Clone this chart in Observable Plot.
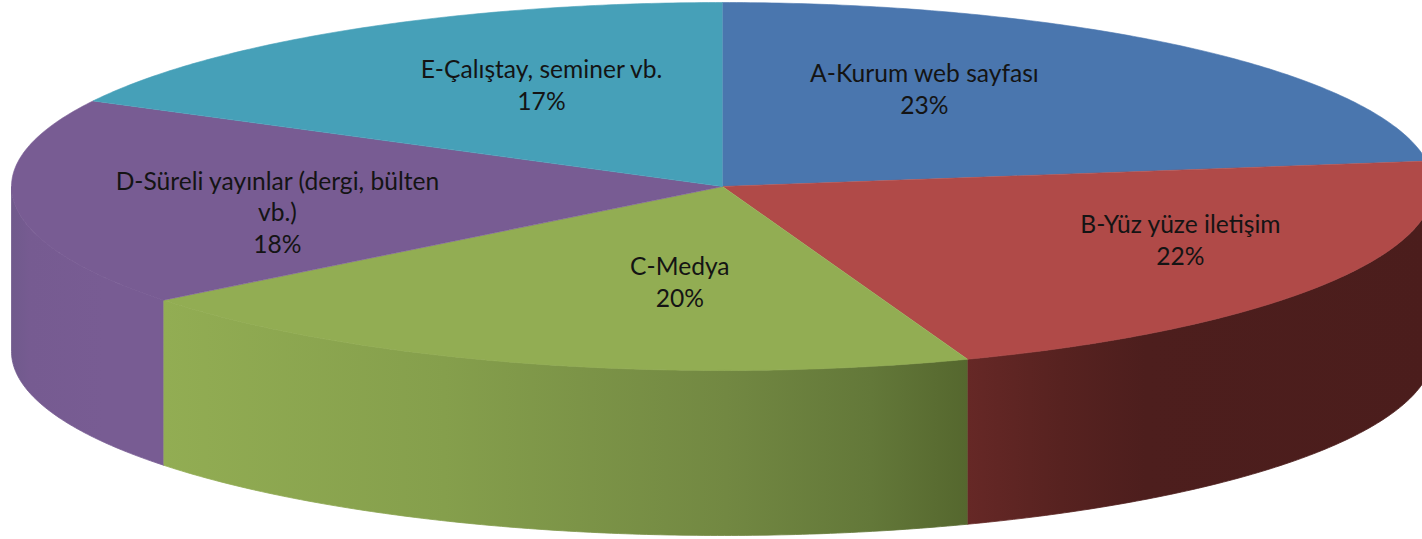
<!DOCTYPE html>
<html lang="tr">
<head>
<meta charset="utf-8">
<script src="https://cdn.jsdelivr.net/npm/d3@7"></script>
<script src="https://cdn.jsdelivr.net/npm/@observablehq/plot@0.6"></script>
<style>
html,body{margin:0;padding:0;background:#fff;overflow:hidden}
svg{display:block}
</style>
</head>
<body>
<div id="chart"></div>
<script>
// Data
const names = ["A-Kurum web sayfası", "B-Yüz yüze iletişim", "C-Medya", "D-Süreli yayınlar (dergi, bülten\nvb.)", "E-Çalıştay, seminer vb."];
const shares = [22.8, 21.6, 20.0, 18.3, 17.3];

// Styles and layout, kept apart from the data
const topColors = ["#4a76ae", "#b04a48", "#92ad53", "#785c93", "#46a0b8"];
const sideStops = [
  null,
  [[0, "#662826"], [0.2, "#572220"], [0.38, "#4d1e1d"], [1, "#4b1d1c"]],
  [[0, "#92ad53"], [0.35, "#859f4c"], [0.7, "#728842"], [0.88, "#637839"], [1, "#55672e"]],
  [[0, "#705a8c"], [0.12, "#765b91"], [0.6, "#785c93"], [1, "#785c93"]],
  null
];
const labelAt = [[0.284, 0.535], [0.644, -0.285], [-0.06, -0.514], [-0.626, -0.135], [-0.2546, 0.557]];

const W = 1422, H = 539, CX = 722, CY = 186, RX = 711, RY = 184, DEPTH = 165;

// Angles measured clockwise from the top of the disc
const total = d3.sum(shares);
const ends = d3.cumsum(shares).map(v => v / total * 2 * Math.PI);
const starts = [0, ...ends.slice(0, -1)];
const rim = (a, drop = 0) => ({x: Math.sin(a), y: Math.cos(a) - drop});
const arc = (a0, a1, drop = 0) => {
  const n = Math.max(2, Math.ceil((a1 - a0) / 0.01));
  return d3.range(n + 1).map(i => rim(a0 + (a1 - a0) * i / n, drop));
};
const drop = DEPTH / RY;

// The visible wall runs from the right edge, round the front, to the left edge
const sides = shares.flatMap((_, i) => {
  const a0 = Math.max(starts[i], Math.PI / 2), a1 = Math.min(ends[i], 3 * Math.PI / 2);
  if (a1 <= a0) return [];
  return [{i, points: [...arc(a0, a1), ...arc(a0, a1, drop).reverse()]}];
});
const tops = shares.map((_, i) => ({i, points: [{x: 0, y: 0}, ...arc(starts[i], ends[i])]}));

const gradients = () => {
  const svg = d3.create("svg:defs");
  sideStops.forEach((stops, i) => {
    if (!stops) return;
    const g = svg.append("linearGradient").attr("id", `side${i}`);
    stops.forEach(([o, c]) => g.append("stop").attr("offset", o).attr("stop-color", c));
  });
  return svg.node();
};

const labels = names.map((n, i) => ({
  text: `${n}\n${Math.round(shares[i])}%`,
  x: labelAt[i][0],
  y: labelAt[i][1]
}));

const chart = Plot.plot({
  width: W, height: H,
  margin: 0,
  style: {background: "#fff"},
  x: {domain: [-CX / RX, (W - CX) / RX], range: [0, W], axis: null},
  y: {domain: [CY / RY, (CY - H) / RY], range: [0, H], axis: null},
  marks: [
    gradients,
    ...sides.map(s => Plot.line(s.points, {x: "x", y: "y", fill: `url(#side${s.i})`, stroke: `url(#side${s.i})`, strokeWidth: 0.8, curve: "linear"})),
    ...tops.map(t => Plot.line(t.points, {x: "x", y: "y", fill: topColors[t.i], stroke: topColors[t.i], strokeWidth: 0.6, curve: "linear"})),
    Plot.text(labels, {
      x: "x", y: "y", text: "text",
      fontFamily: "Lato", fontSize: 24.6, lineHeight: 1.28, fill: "#141414",
      textAnchor: "middle", stroke: "none"
    })
  ]
});
document.getElementById("chart").append(chart);
</script>
</body>
</html>
